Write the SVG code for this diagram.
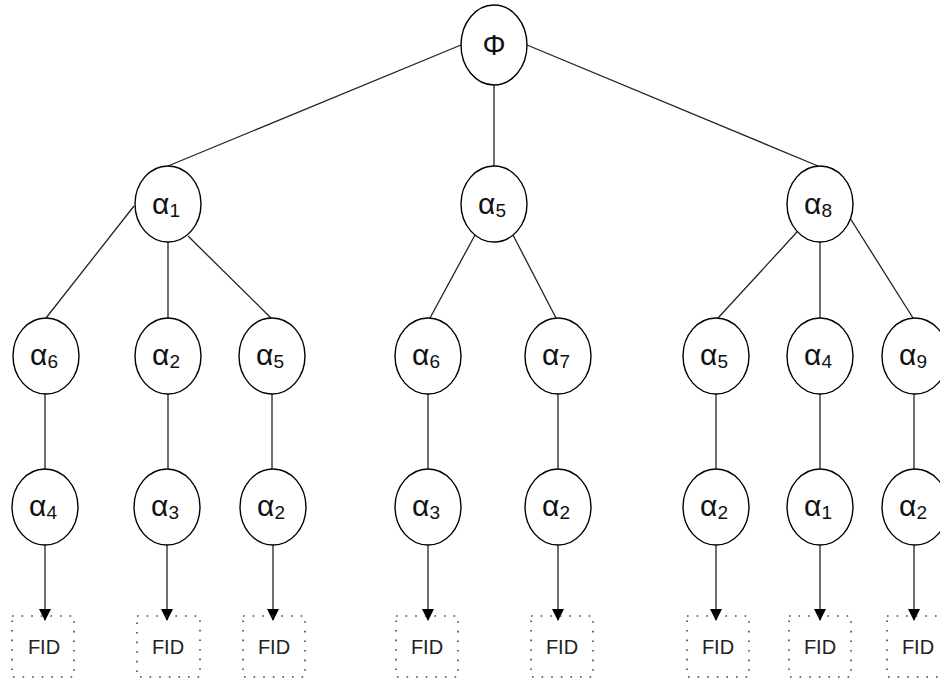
<svg xmlns="http://www.w3.org/2000/svg" width="940" height="679" viewBox="0 0 940 679">
<style>
.n ellipse{fill:#fff;stroke:#000;stroke-width:1.4}
.n text{font-family:"Liberation Sans",Arial,sans-serif;font-size:30px;fill:#111;text-anchor:middle}
.n tspan{font-size:19px}
.f rect{fill:none;stroke:#444;stroke-width:1.6;stroke-dasharray:1.6 8}
.f text{font-family:"Liberation Sans",Arial,sans-serif;font-size:20px;fill:#222;text-anchor:middle}
.c line{stroke:#222;stroke-width:1.3}
.c .a{marker-end:url(#ah)}
</style>
<defs>
<marker id="ah" markerWidth="12" markerHeight="12" viewBox="0 0 12 12" refX="11" refY="6" orient="auto" markerUnits="userSpaceOnUse">
<path d="M0,0 L12,6 L0,12 Z" fill="#000"/>
</marker>
</defs>
<rect width="940" height="679" fill="#fff"/>
<g class="c" id="connectors">
<line x1="461" y1="45" x2="168" y2="166"/>
<line x1="494" y1="85" x2="494" y2="166"/>
<line x1="527" y1="45" x2="818" y2="166"/>
<line x1="134" y1="206" x2="46" y2="318"/>
<line x1="168" y1="242" x2="168" y2="318"/>
<line x1="188" y1="236" x2="271" y2="318"/>
<line x1="475" y1="235" x2="430" y2="318"/>
<line x1="513" y1="235" x2="556" y2="318"/>
<line x1="797" y1="232" x2="718" y2="318"/>
<line x1="820" y1="242" x2="820" y2="318"/>
<line x1="850" y1="218" x2="913" y2="318"/>
<line x1="45" y1="394" x2="45" y2="469"/>
<line x1="168" y1="394" x2="168" y2="469"/>
<line x1="272" y1="394" x2="272" y2="469"/>
<line x1="428" y1="394" x2="428" y2="469"/>
<line x1="558" y1="394" x2="558" y2="469"/>
<line x1="716" y1="394" x2="716" y2="469"/>
<line x1="820" y1="394" x2="820" y2="469"/>
<line x1="914" y1="394" x2="914" y2="469"/>
<line class="a" x1="45" y1="545" x2="45" y2="620"/>
<line class="a" x1="167" y1="545" x2="167" y2="620"/>
<line class="a" x1="273" y1="545" x2="273" y2="620"/>
<line class="a" x1="428" y1="545" x2="428" y2="620"/>
<line class="a" x1="558" y1="545" x2="558" y2="620"/>
<line class="a" x1="716" y1="545" x2="716" y2="620"/>
<line class="a" x1="820" y1="545" x2="820" y2="620"/>
<line class="a" x1="914" y1="545" x2="914" y2="620"/>
</g>
<g class="n" id="root"><ellipse cx="494" cy="45" rx="33" ry="40"/><text x="494" y="55" style="font-size:29px">Φ</text></g>
<g class="n" id="a1"><ellipse cx="168" cy="204" rx="33" ry="38"/><text x="166" y="214">α<tspan dy="3">1</tspan></text></g>
<g class="n" id="a5"><ellipse cx="494" cy="204" rx="33" ry="38"/><text x="492" y="214">α<tspan dy="3">5</tspan></text></g>
<g class="n" id="a8"><ellipse cx="820" cy="204" rx="33" ry="38"/><text x="818" y="214">α<tspan dy="3">8</tspan></text></g>
<g class="n" id="a1-a6"><ellipse cx="46" cy="356" rx="33" ry="38"/><text x="44" y="365">α<tspan dy="3">6</tspan></text></g>
<g class="n" id="a1-a2"><ellipse cx="168" cy="356" rx="33" ry="38"/><text x="166" y="365">α<tspan dy="3">2</tspan></text></g>
<g class="n" id="a1-a5"><ellipse cx="272" cy="356" rx="33" ry="38"/><text x="270" y="365">α<tspan dy="3">5</tspan></text></g>
<g class="n" id="a5-a6"><ellipse cx="428" cy="356" rx="33" ry="38"/><text x="426" y="365">α<tspan dy="3">6</tspan></text></g>
<g class="n" id="a5-a7"><ellipse cx="558" cy="356" rx="33" ry="38"/><text x="556" y="365">α<tspan dy="3">7</tspan></text></g>
<g class="n" id="a8-a5"><ellipse cx="716" cy="356" rx="33" ry="38"/><text x="714" y="365">α<tspan dy="3">5</tspan></text></g>
<g class="n" id="a8-a4"><ellipse cx="820" cy="356" rx="33" ry="38"/><text x="818" y="365">α<tspan dy="3">4</tspan></text></g>
<g class="n" id="a8-a9"><ellipse cx="915" cy="356" rx="33" ry="38"/><text x="913" y="365">α<tspan dy="3">9</tspan></text></g>
<g class="n" id="l3-1"><ellipse cx="45" cy="507" rx="33" ry="38"/><text x="43" y="516">α<tspan dy="3">4</tspan></text></g>
<g class="n" id="l3-2"><ellipse cx="167" cy="507" rx="33" ry="38"/><text x="165" y="516">α<tspan dy="3">3</tspan></text></g>
<g class="n" id="l3-3"><ellipse cx="273" cy="507" rx="33" ry="38"/><text x="271" y="516">α<tspan dy="3">2</tspan></text></g>
<g class="n" id="l3-4"><ellipse cx="428" cy="507" rx="33" ry="38"/><text x="426" y="516">α<tspan dy="3">3</tspan></text></g>
<g class="n" id="l3-5"><ellipse cx="558" cy="507" rx="33" ry="38"/><text x="556" y="516">α<tspan dy="3">2</tspan></text></g>
<g class="n" id="l3-6"><ellipse cx="716" cy="507" rx="33" ry="38"/><text x="714" y="516">α<tspan dy="3">2</tspan></text></g>
<g class="n" id="l3-7"><ellipse cx="820" cy="507" rx="33" ry="38"/><text x="818" y="516">α<tspan dy="3">1</tspan></text></g>
<g class="n" id="l3-8"><ellipse cx="915" cy="507" rx="33" ry="38"/><text x="913" y="516">α<tspan dy="3">2</tspan></text></g>
<g class="f" id="fid1"><rect x="12" y="616" width="62" height="61"/><text x="44" y="654">FID</text></g>
<g class="f" id="fid2"><rect x="137" y="616" width="63" height="61"/><text x="168" y="654">FID</text></g>
<g class="f" id="fid3"><rect x="243" y="616" width="62" height="61"/><text x="274" y="654">FID</text></g>
<g class="f" id="fid4"><rect x="396" y="616" width="62" height="61"/><text x="427" y="654">FID</text></g>
<g class="f" id="fid5"><rect x="531" y="616" width="62" height="61"/><text x="562" y="654">FID</text></g>
<g class="f" id="fid6"><rect x="687" y="616" width="62" height="61"/><text x="718" y="654">FID</text></g>
<g class="f" id="fid7"><rect x="789" y="616" width="62" height="61"/><text x="820" y="654">FID</text></g>
<g class="f" id="fid8"><rect x="887" y="616" width="62" height="61"/><text x="918" y="654">FID</text></g>
</svg>
